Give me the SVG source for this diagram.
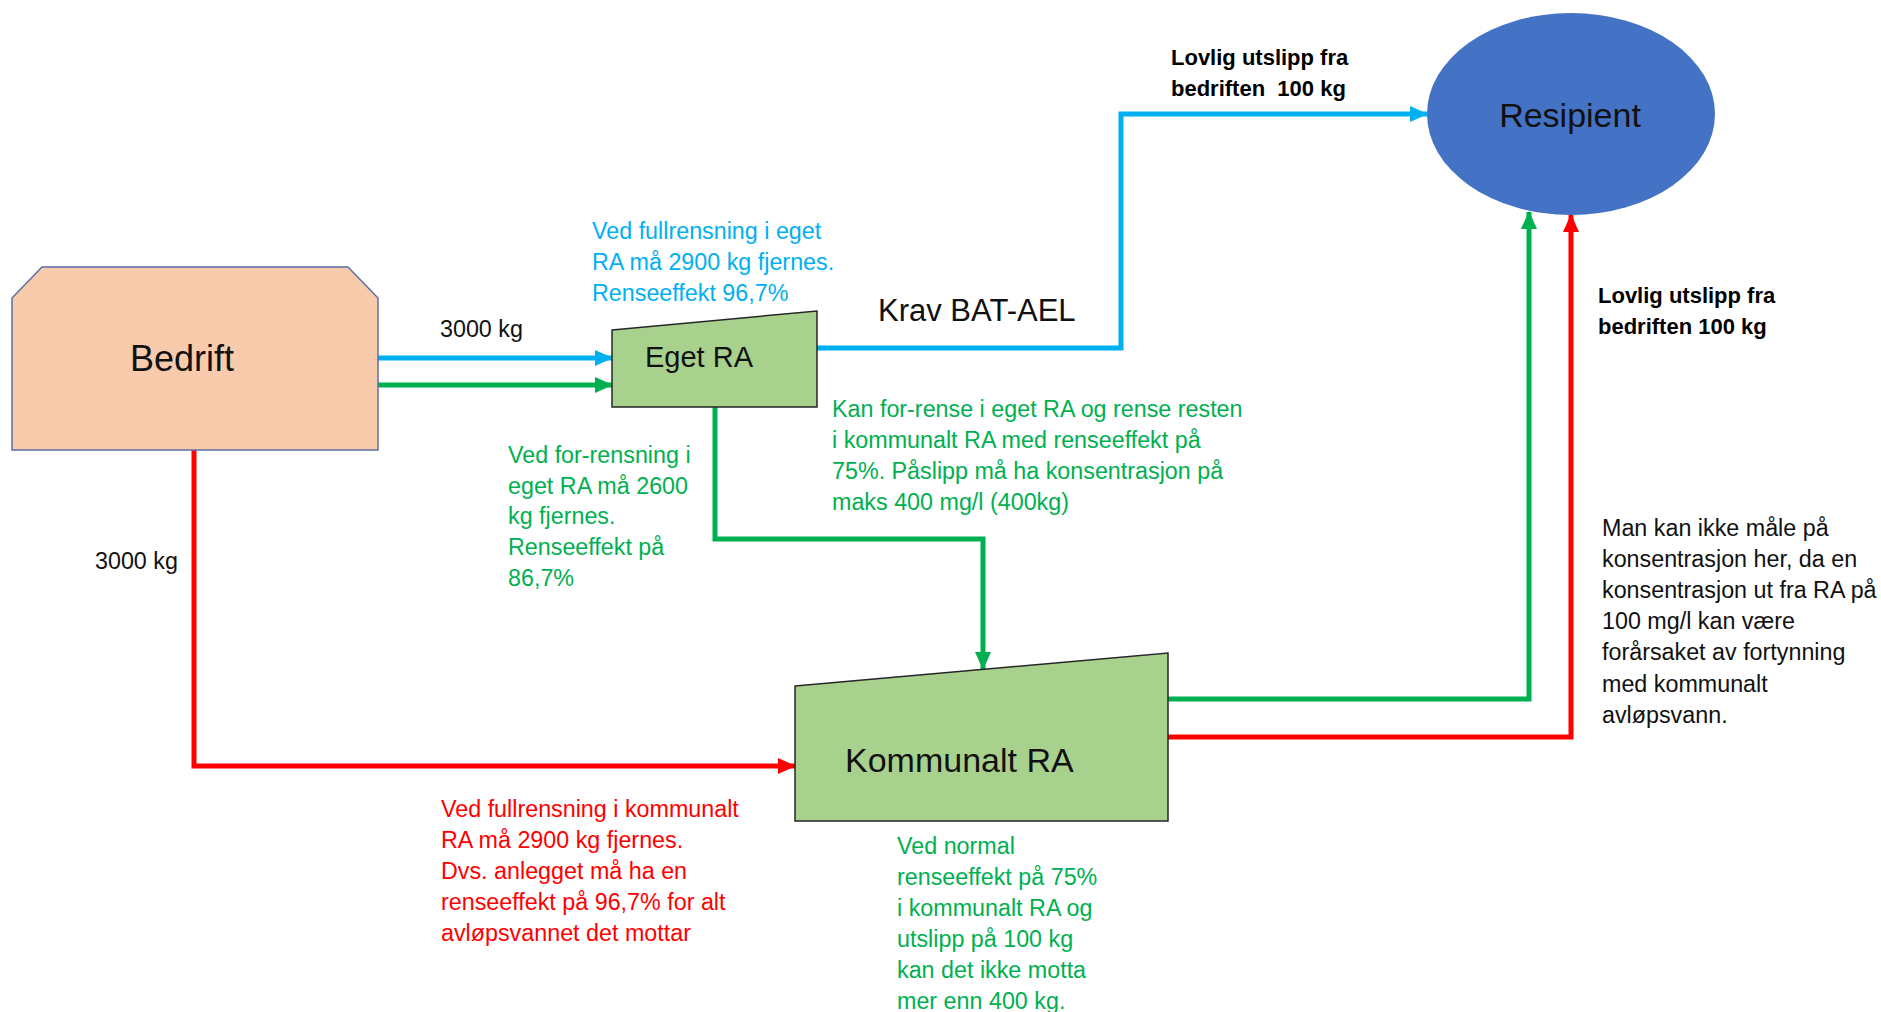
<svg xmlns="http://www.w3.org/2000/svg" width="1881" height="1012" viewBox="0 0 1881 1012">
<defs>
<style>
text{font-family:"Liberation Sans",Arial,sans-serif;}
.t{font-size:23.3px;}
.blue{fill:#00B0F0;}
.green{fill:#00B050;}
.red{fill:#FF0000;}
.blk{fill:#111;}
.bold{font-weight:bold;font-size:22px;fill:#000;}
.ln{fill:none;stroke-width:5;stroke-linejoin:miter;stroke-linecap:butt;}
.lb{stroke:#00B0F0;}
.lg{stroke:#00B050;}
.lr{stroke:#FF0000;}
.ra{fill:#A9D18E;stroke:#262626;stroke-width:1.5;}
</style>
<marker id="ab" markerUnits="userSpaceOnUse" markerWidth="18" markerHeight="16" refX="17" refY="8" orient="auto"><path d="M0,0 L18,8 L0,16 z" fill="#00B0F0"/></marker>
<marker id="ag" markerUnits="userSpaceOnUse" markerWidth="18" markerHeight="16" refX="17" refY="8" orient="auto"><path d="M0,0 L18,8 L0,16 z" fill="#00B050"/></marker>
<marker id="ar" markerUnits="userSpaceOnUse" markerWidth="18" markerHeight="16" refX="17" refY="8" orient="auto"><path d="M0,0 L18,8 L0,16 z" fill="#FF0000"/></marker>
</defs>
<rect width="1881" height="1012" fill="#fff"/>

<g id="connectors">
<path class="ln lb" d="M378,358 H612" marker-end="url(#ab)"/>
<path class="ln lg" d="M378,385 H612" marker-end="url(#ag)"/>
<path class="ln lb" d="M817,348 H1121 V114 H1427" marker-end="url(#ab)"/>
<path class="ln lg" d="M715,407 V539 H983 V669" marker-end="url(#ag)"/>
<path class="ln lr" d="M194,450 V766 H795" marker-end="url(#ar)"/>
<path class="ln lg" d="M1166,699 H1529 V212" marker-end="url(#ag)"/>
<path class="ln lr" d="M1168,737 H1571 V215" marker-end="url(#ar)"/>
</g>

<g id="bedrift">
<polygon points="12,298 42,267 348,267 378,298 378,450 12,450" fill="#F8CBAD" stroke="#5B6FA6" stroke-width="1.5"/>
<text x="182" y="371" text-anchor="middle" font-size="36" fill="#111">Bedrift</text>
</g>

<g id="eget-ra">
<polygon class="ra" points="612,330 817,311 817,407 612,407"/>
<text x="699" y="367" text-anchor="middle" font-size="29" fill="#111">Eget RA</text>
</g>

<g id="kommunalt-ra">
<polygon class="ra" points="795,686 1168,653 1168,821 795,821"/>
<text x="845" y="772" font-size="34" fill="#111">Kommunalt RA</text>
</g>

<g id="resipient">
<ellipse cx="1571" cy="114" rx="144" ry="101" fill="#4472C4"/>
<text x="1570" y="127" text-anchor="middle" font-size="34" fill="#111">Resipient</text>
</g>

<g id="labels">
<text class="t blk" x="440" y="337">3000 kg</text>
<text class="t blk" x="95" y="569">3000 kg</text>
<text x="878" y="321" font-size="31" fill="#111">Krav BAT-AEL</text>

<text class="bold" x="1171" y="65">Lovlig utslipp fra</text>
<text class="bold" x="1171" y="96">bedriften&#160; 100 kg</text>
<text class="bold" x="1598" y="303">Lovlig utslipp fra</text>
<text class="bold" x="1598" y="334">bedriften 100 kg</text>

<text class="t blue" x="592" y="239">Ved fullrensning i eget</text>
<text class="t blue" x="592" y="270">RA må 2900 kg fjernes.</text>
<text class="t blue" x="592" y="301">Renseeffekt 96,7%</text>

<text class="t green" x="508" y="463">Ved for-rensning i</text>
<text class="t green" x="508" y="494">eget RA må 2600</text>
<text class="t green" x="508" y="524">kg fjernes.</text>
<text class="t green" x="508" y="555">Renseeffekt på</text>
<text class="t green" x="508" y="586">86,7%</text>

<text class="t green" x="832" y="417">Kan for-rense i eget RA og rense resten</text>
<text class="t green" x="832" y="448">i kommunalt RA med renseeffekt på</text>
<text class="t green" x="832" y="479">75%. Påslipp må ha konsentrasjon på</text>
<text class="t green" x="832" y="510">maks 400 mg/l (400kg)</text>

<text class="t red" x="441" y="817">Ved fullrensning i kommunalt</text>
<text class="t red" x="441" y="848">RA må 2900 kg fjernes.</text>
<text class="t red" x="441" y="879">Dvs. anlegget må ha en</text>
<text class="t red" x="441" y="910">renseeffekt på 96,7% for alt</text>
<text class="t red" x="441" y="941">avløpsvannet det mottar</text>

<text class="t green" x="897" y="854">Ved normal</text>
<text class="t green" x="897" y="885">renseeffekt på 75%</text>
<text class="t green" x="897" y="916">i kommunalt RA og</text>
<text class="t green" x="897" y="947">utslipp på 100 kg</text>
<text class="t green" x="897" y="978">kan det ikke motta</text>
<text class="t green" x="897" y="1009">mer enn 400 kg.</text>

<text class="t blk" x="1602" y="536">Man kan ikke måle på</text>
<text class="t blk" x="1602" y="567">konsentrasjon her, da en</text>
<text class="t blk" x="1602" y="598">konsentrasjon ut fra RA på</text>
<text class="t blk" x="1602" y="629">100 mg/l kan være</text>
<text class="t blk" x="1602" y="660">forårsaket av fortynning</text>
<text class="t blk" x="1602" y="692">med kommunalt</text>
<text class="t blk" x="1602" y="723">avløpsvann.</text>
</g>
</svg>
